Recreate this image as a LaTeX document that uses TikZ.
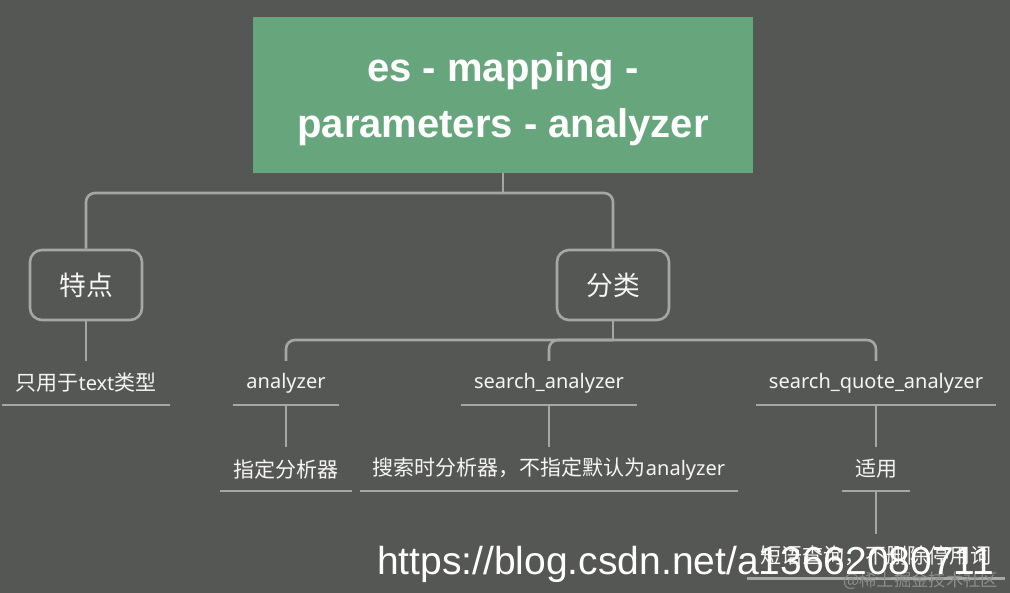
\documentclass[tikz,border=0pt]{standalone}
\usepackage{fontspec}
\setmainfont{Noto Sans}
\newfontfamily\cjk{Noto Sans CJK SC}[Scale=1.05]
\newfontfamily\wmfont{Liberation Sans}
\newfontfamily\rootfont{Liberation Sans}
\definecolor{bgc}{RGB}{85,87,84}
\definecolor{rootc}{RGB}{103,166,125}
\definecolor{lnc}{RGB}{166,167,165}
\definecolor{txtc}{RGB}{245,245,245}
\definecolor{wmgrey}{RGB}{140,142,139}
\begin{document}
\begin{tikzpicture}[x=1pt,y=-1pt,
  ln/.style={draw=lnc, line width=2.6pt},
  conn/.style={ln, rounded corners=9pt},
  rootbox/.style={fill=rootc, minimum width=500pt, minimum height=156pt, inner sep=0pt},
  roottext/.style={text=white, align=center, yshift=-4.5pt, inner sep=0pt,
    font=\rootfont\bfseries\fontsize{40}{56}\selectfont},
  catbox/.style={draw=lnc, line width=2.6pt, rounded corners=12pt, minimum width=112pt,
    minimum height=70pt, text=txtc, font=\cjk\fontsize{25.5}{30}\selectfont},
  lbl/.style={text=txtc, font=\fontsize{20}{24}\selectfont, minimum height=44pt,
    inner xsep=13pt, inner ysep=0pt,
    append after command={(\tikzlastnode.south west) edge[ln] (\tikzlastnode.south east)}}
]
\fill[bgc] (0,0) rectangle (1010,593);
\useasboundingbox (0,0) rectangle (1010,593);

\node[rootbox, label={[roottext]center:es - mapping -\\parameters - analyzer}] (root) at (503,95) {};
\node[catbox] (tedian) at (86,285) {特点};
\node[catbox] (fenlei) at (613,285) {分类};

\coordinate (jr) at (503,193);
\draw[ln] (root.south) -- (jr);
\draw[conn] (jr) -| (tedian.north);
\draw[conn] (jr) -| (fenlei.north);

\node[lbl] (t1) at (86,383) {{\cjk 只用于}text{\cjk 类型}};
\draw[ln] (tedian.south) -- (t1.north);

\node[lbl] (a1) at (286,383) {analyzer};
\node[lbl] (s1) at (549,383) {search\_analyzer};
\node[lbl] (q1) at (876,383) {search\_quote\_analyzer};

\coordinate (jf) at (613,340);
\draw[ln] (fenlei.south) -- (jf);
\draw[conn] (jf) -| (a1.north);
\draw[conn] (jf) -| (s1.north);
\draw[conn] (jf) -| (q1.north);

\node[lbl] (a2) at (286,469) {\cjk 指定分析器};
\node[lbl] (s2) at (549,469) {{\cjk 搜索时分析器，不指定默认为}analyzer};
\node[lbl] (q2) at (876,469) {\cjk 适用};
\node[lbl] (q3) at (876,556) {\cjk 短语查询，不删除停用词};
\draw[ln] (a1.south) -- (a2.north);
\draw[ln] (s1.south) -- (s2.north);
\draw[ln] (q1.south) -- (q2.north);
\draw[ln] (q2.south) -- (q3.north);

\node[anchor=base west, inner sep=0pt, text=wmgrey, font=\cjk\fontsize{16.5}{20}\selectfont] (wm2) at (843,586) {@稀土掘金技术社区};
\node[anchor=base west, inner sep=0pt, text=white, font=\wmfont\fontsize{39}{44}\selectfont] (wm1) at (377,574) {https://blog.csdn.net/a13662080711};
\end{tikzpicture}
\end{document}
